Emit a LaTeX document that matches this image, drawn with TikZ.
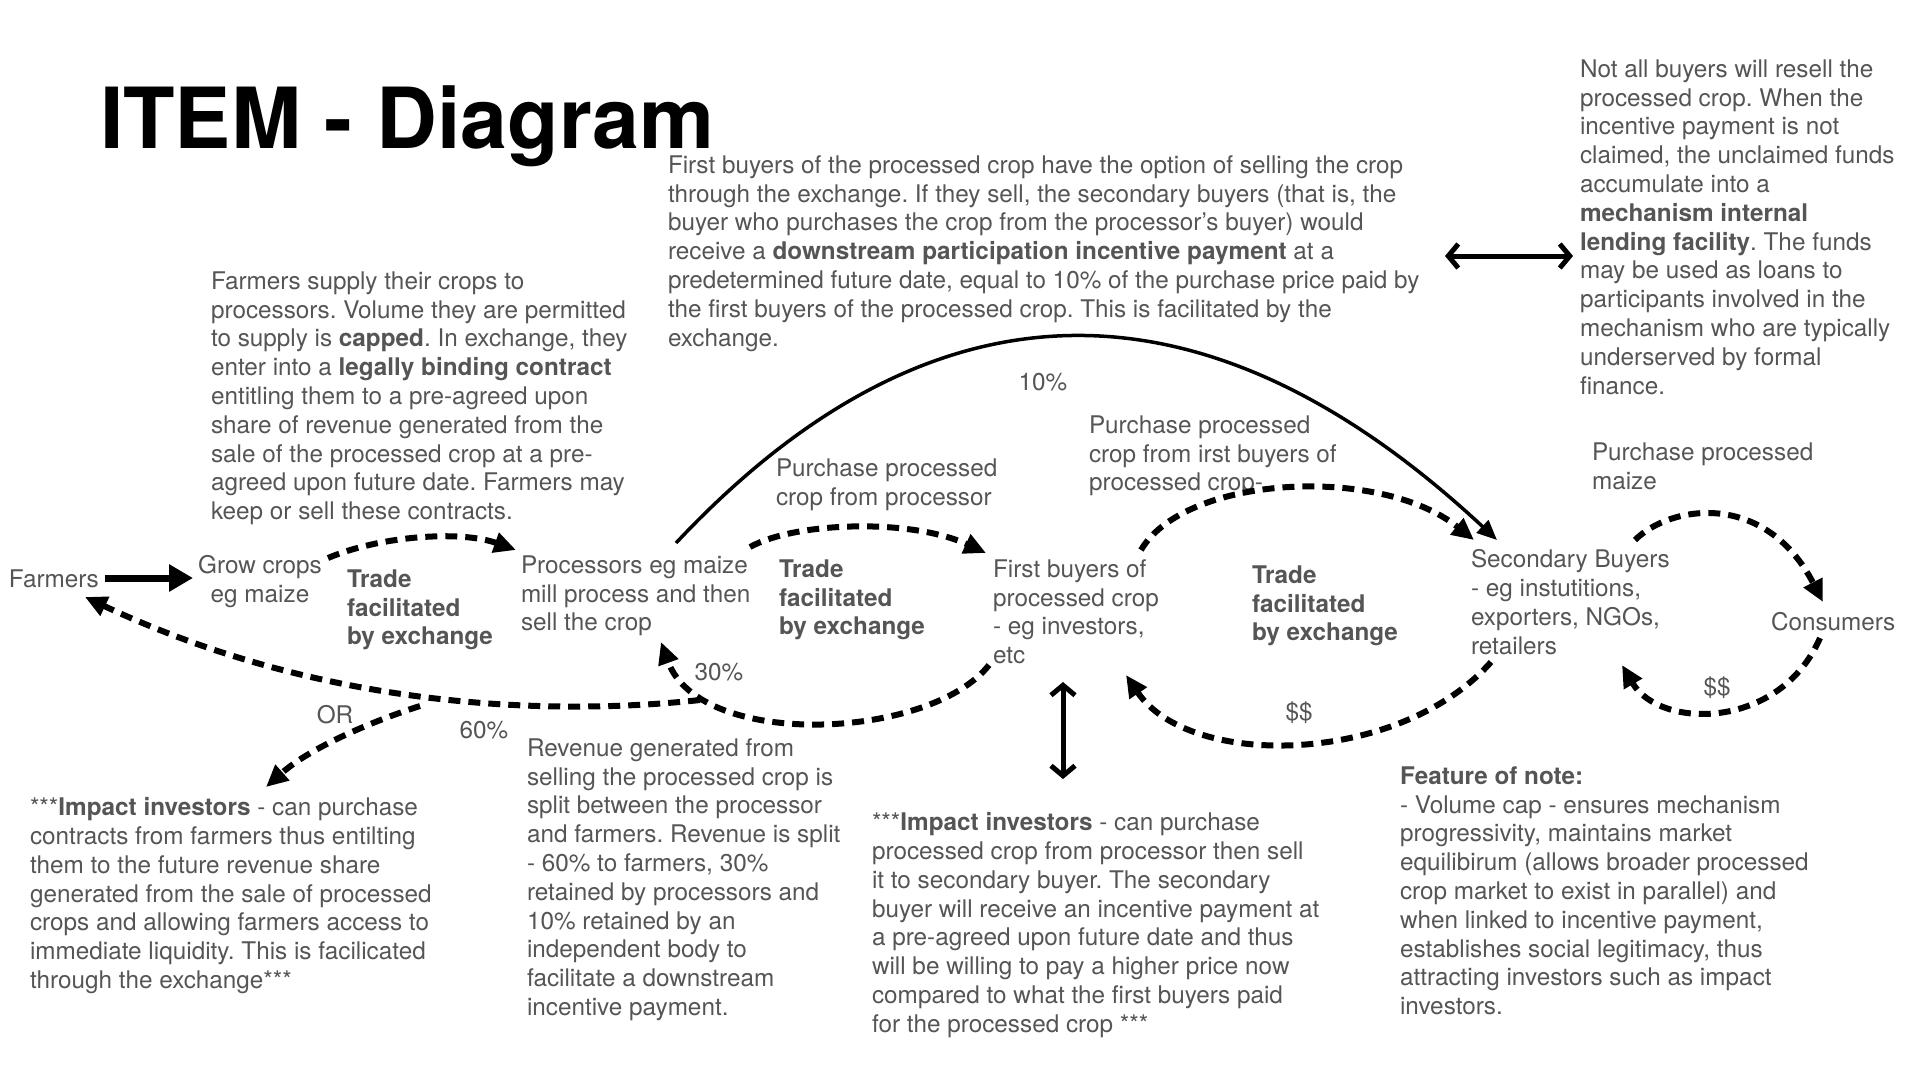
\documentclass[tikz,border=0pt]{standalone}
\usepackage{fontspec}
\setmainfont{TeX Gyre Heros}
\usetikzlibrary{arrows.meta}
\definecolor{txt}{HTML}{555555}
\frenchspacing
\begin{document}
\begin{tikzpicture}[x=1pt,y=-1pt,
  every node/.style={inner sep=0pt, outer sep=0pt, text=txt, font=\fontsize{24.3}{28.8}\selectfont},
  blk/.style={align=left, anchor=north west},
  boldblk/.style={align=left, anchor=north west, font=\fontsize{24.3}{28.8}\selectfont\bfseries},
  dflow/.style={line width=6pt, dash pattern=on 12pt off 8pt, -{Triangle[length=22pt,width=20pt]}},
  thickarrow/.style={line width=7pt, -{Triangle[length=24pt,width=26pt]}},
  arcarrow/.style={line width=3.5pt, -{Triangle[length=20pt,width=17pt]}},
  dbl/.style={line width=5pt, line cap=round, {Straight Barb[length=10pt,width=24pt,line width=5pt]}-{Straight Barb[length=10pt,width=24pt,line width=5pt]}}
]
\useasboundingbox (0,0) rectangle (1920,1080);

% title
\node[anchor=base west, text=black, font=\fontsize{84.3}{90}\selectfont\bfseries] (title) at (100,148) {ITEM - Diagram};

% text blocks
\node[blk] (b1) at (211,271.5) {Farmers supply their crops to\\
processors. Volume they are permitted\\
to supply is \textbf{capped}. In exchange, they\\
enter into a \textbf{legally binding contract}\\
entitling them to a pre-agreed upon\\
share of revenue generated from the\\
sale of the processed crop at a pre-\\
agreed upon future date. Farmers may\\
keep or sell these contracts.};

\node[blk] (b2) at (668,155.5) {First buyers of the processed crop have the option of selling the crop\\
through the exchange. If they sell, the secondary buyers (that is, the\\
buyer who purchases the crop from the processor’s buyer) would\\
receive a \textbf{downstream participation incentive payment} at a\\
predetermined future date, equal to 10\% of the purchase price paid by\\
the first buyers of the processed crop. This is facilitated by the\\
exchange.};

\node[blk] (b3) at (1580,59.5) {Not all buyers will resell the\\
processed crop. When the\\
incentive payment is not\\
claimed, the unclaimed funds\\
accumulate into a\\
\textbf{mechanism internal}\\
\textbf{lending facility}. The funds\\
may be used as loans to\\
participants involved in the\\
mechanism who are typically\\
underserved by formal\\
finance.};

\node[blk] (imp1) at (30,797.5) {***\textbf{Impact investors} - can purchase\\
contracts from farmers thus entilting\\
them to the future revenue share\\
generated from the sale of processed\\
crops and allowing farmers access to\\
immediate liquidity. This is facilicated\\
through the exchange***};

\node[blk] (rev) at (527,738.5) {Revenue generated from\\
selling the processed crop is\\
split between the processor\\
and farmers. Revenue is split\\
- 60\% to farmers, 30\%\\
retained by processors and\\
10\% retained by an\\
independent body to\\
facilitate a downstream\\
incentive payment.};

\node[blk] (imp2) at (872,812.5) {***\textbf{Impact investors} - can purchase\\
processed crop from processor then sell\\
it to secondary buyer. The secondary\\
buyer will receive an incentive payment at\\
a pre-agreed upon future date and thus\\
will be willing to pay a higher price now\\
compared to what the first buyers paid\\
for the processed crop ***};

\node[blk] (feat) at (1400,766.5) {\textbf{Feature of note:}\\
- Volume cap - ensures mechanism\\
progressivity, maintains market\\
equilibirum (allows broader processed\\
crop market to exist in parallel) and\\
when linked to incentive payment,\\
establishes social legitimacy, thus\\
attracting investors such as impact\\
investors.};

% main chain
\node[anchor=base west] (farmers) at (9,587) {Farmers};
\node[align=center, anchor=north] (grow) at (260,555.5) {Grow crops\\eg maize};
\node[boldblk] (trade1) at (347,569.5) {Trade\\facilitated\\by exchange};
\node[blk] (proc) at (521,555.5) {Processors eg maize\\mill process and then\\sell the crop};
\node[blk] (pur1) at (776,458.5) {Purchase processed\\crop from processor};
\node[boldblk] (trade2) at (779,559.5) {Trade\\facilitated\\by exchange};
\node[blk] (first) at (993,559.5) {First buyers of\\processed crop\\- eg investors,\\etc};
\node[blk] (pur2) at (1089,415.5) {Purchase processed\\crop from irst buyers of\\processed crop-};
\node[boldblk] (trade3) at (1252,565.5) {Trade\\facilitated\\by exchange};
\node[blk] (sec) at (1471,549.5) {Secondary Buyers\\- eg instutitions,\\exporters, NGOs,\\retailers};
\node[blk] (pur3) at (1592,442.5) {Purchase processed\\maize};
\node[anchor=base west] (cons) at (1771,630) {Consumers};

% small labels
\node (p10) at (1043,382) {10\%};
\node (p30) at (719,672) {30\%};
\node (p60) at (484,730) {60\%};
\node (or) at (335,715) {OR};
\node (dd1) at (1717,688) {\$\$};
\node (dd2) at (1299,713) {\$\$};

% connector end points
\coordinate (fa1) at (105,578);
\coordinate (fa2) at (193,578);
\coordinate (g1) at (328,558);
\coordinate (pr1) at (516,550);
\coordinate (pr2) at (750,547);
\coordinate (fb1) at (986,553);
\coordinate (fb2) at (1141,550);
\coordinate (sb1) at (1474,540);
\coordinate (sb2) at (1635,540);
\coordinate (cn1) at (1823,602);
\coordinate (cn2) at (1820,638);
\coordinate (sb3) at (1622,665);
\coordinate (sb4) at (1491,662);
\coordinate (fb3) at (1126,675);
\coordinate (fb4) at (989,665);
\coordinate (pr3) at (661,642);
\coordinate (sp) at (700,700);
\coordinate (fm) at (85,597);
\coordinate (or0) at (420,706);
\coordinate (iv) at (266,787);
\coordinate (pr4) at (676,543);
\coordinate (sb5) at (1497,540);
\coordinate (lf1) at (1445,256);
\coordinate (lf2) at (1573,256);
\coordinate (vt1) at (1063,682);
\coordinate (vt2) at (1063,779);

% connectors
\draw[thickarrow] (fa1) -- (fa2);
\draw[dflow] (g1) .. controls (380,536) and (460,530) .. (pr1);
\draw[dflow] (pr2) .. controls (795,522) and (910,518) .. (fb1);
\draw[dflow] (fb2) .. controls (1185,475) and (1380,465) .. (sb1);
\draw[dflow] (sb2) .. controls (1670,505) and (1765,490) .. (cn1);
\draw[dflow] (cn2) .. controls (1780,730) and (1660,730) .. (sb3);
\draw[dflow] (sb4) .. controls (1400,765) and (1190,770) .. (fb3);
\draw[dflow] (fb4) .. controls (930,740) and (700,750) .. (pr3);
\draw[dflow] (sp) .. controls (560,715) and (330,712) .. (fm);
\draw[dflow] (or0) .. controls (370,722) and (310,748) .. (iv);
\draw[arcarrow] (pr4) .. controls (932,270) and (1205,268) .. (sb5);
\draw[dbl] (lf1) -- (lf2);
\draw[dbl] (vt1) -- (vt2);
\end{tikzpicture}
\end{document}
